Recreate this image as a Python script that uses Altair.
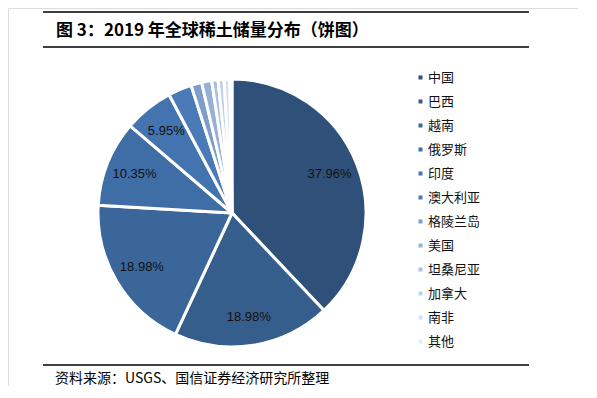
import altair as alt
import pandas as pd

countries = ["中国", "巴西", "越南", "俄罗斯", "印度", "澳大利亚", "格陵兰岛", "美国", "坦桑尼亚", "加拿大", "南非", "其他"]
reserves = [44.0, 22.0, 22.0, 12.0, 6.9, 3.3, 1.5, 1.4, 0.89, 0.83, 0.79, 0.31]
colors = ["#2F5179", "#365E8D", "#3B6699", "#3F6EA6", "#4474AF", "#4A7BB8",
          "#7E9DCB", "#98B0D6", "#ADC1DF", "#C2D0E7", "#D5DFEE", "#E6ECF5"]

df = pd.DataFrame({"country": countries, "value": reserves, "idx": list(range(len(countries)))})

W, H = 570, 378
CX, CY = 224, 205
R = 134
CJK = "Noto Sans CJK SC"

base = alt.Chart(df).encode(
    theta=alt.Theta("value:Q", stack=True),
    order=alt.Order("idx:Q"),
)

arcs = base.mark_arc(outerRadius=R, stroke="white", strokeWidth=3).encode(
    x=alt.value(CX), y=alt.value(CY),
    color=alt.Color("country:N", sort=countries,
                    scale=alt.Scale(domain=countries, range=colors),
                    legend=alt.Legend(orient="none", legendX=406, legendY=63, title=None,
                                      symbolType="square", symbolSize=16, symbolStrokeWidth=0,
                                      labelFont=CJK, labelFontSize=13, labelColor="#111111",
                                      rowPadding=10, labelOffset=1, padding=0)),
)

labels = base.transform_joinaggregate(total="sum(value)").transform_calculate(
    pct="datum.value / datum.total"
).transform_filter("datum.pct > 0.05").mark_text(
    radius=105, font="Arial", fontSize=13, color="#111111"
).encode(
    x=alt.value(CX), y=alt.value(CY),
    text=alt.Text("pct:Q", format=".2%"),
)

def hrule(yv):
    return alt.Chart(pd.DataFrame({"k": [0]})).mark_rule(color="#000000", strokeWidth=1.3).encode(
        x=alt.value(35), x2=alt.value(521), y=alt.value(yv)
    )

title = alt.Chart(pd.DataFrame({"t": ["图 3：2019 年全球稀土储量分布（饼图）"]})).mark_text(
    font=CJK, fontSize=17, fontWeight="bold", align="left", baseline="middle", color="#000000"
).encode(x=alt.value(48), y=alt.value(23), text="t:N")

footer = alt.Chart(pd.DataFrame({"t": ["资料来源：USGS、国信证券经济研究所整理"]})).mark_text(
    font=CJK, fontSize=14, align="left", baseline="middle", color="#000000"
).encode(x=alt.value(47), y=alt.value(371), text="t:N")

chart = alt.layer(arcs, labels, hrule(4), hrule(39), hrule(357), title, footer).properties(
    width=W, height=H, padding=0, autosize=alt.AutoSizeParams(type="none")
).configure_view(stroke=None).configure(background="white")

chart.save("out.html", embed_options={"renderer": "svg", "actions": False})
